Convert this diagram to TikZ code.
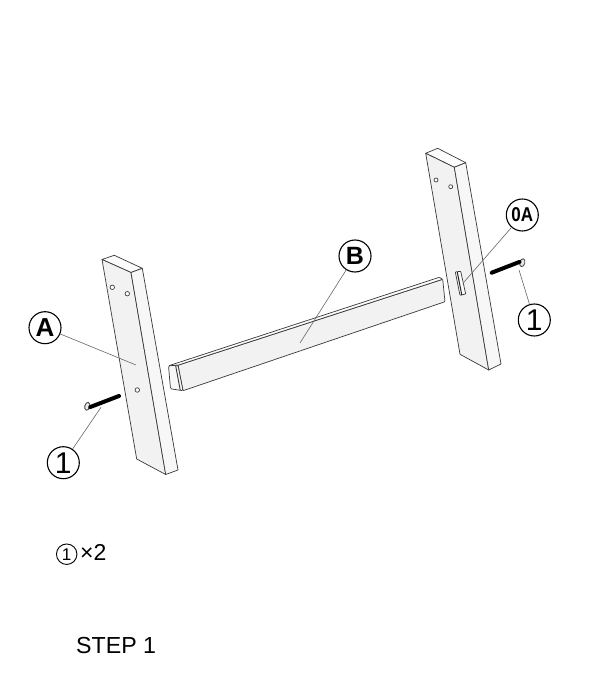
\documentclass[tikz,border=0pt]{standalone}
\usepackage{fontspec}
\setmainfont{Liberation Sans}
\usetikzlibrary{shapes.geometric}
\tikzset{
  part/.style={draw=black!78,line width=0.7pt,line join=round},
  front/.style={part,fill=black!5},
  side/.style={part,fill=black!3},
  topf/.style={part,fill=black!1},
  hole/.style={circle,draw=black!75,line width=0.7pt,fill=white,minimum size=4.5pt,inner sep=0pt},
  callout/.style={circle,draw=black,line width=1.1pt,fill=white,minimum size=32pt,inner sep=0pt,font=\fontsize{30}{30}\selectfont},
  leader/.style={draw=black!60,line width=0.6pt},
  shaft/.style={draw=black,line width=4pt,line cap=round},
  head/.style={ellipse,draw=black!70,line width=0.9pt,fill=black!8,minimum width=5pt,minimum height=8pt,inner sep=0pt},
  lab/.style={inner sep=0pt,anchor=base west},
}
\begin{document}
\begin{tikzpicture}[x=1pt,y=-1pt]
\useasboundingbox (0,0) rectangle (600,700);
% left post
\coordinate (la) at (102,259.5); \coordinate (lb) at (114.3,255.3);
\coordinate (lc) at (142.3,268.3); \coordinate (ld) at (131,272.5);
\coordinate (le) at (136.7,459); \coordinate (lf) at (165.7,474.5);
\coordinate (lg) at (178,470);
\fill[topf] (la) -- (lb) -- (lc) -- (ld) -- cycle;
\fill[front] (la) -- (ld) -- (lf) -- (le) -- cycle;
\fill[side] (ld) -- (lc) -- (lg) -- (lf) -- cycle;
\node[hole] (lh1) at (112.3,287.3) {};
\node[hole] (lh2) at (127.3,293.7) {};
\node[hole] (lh3) at (137.3,390) {};
% right post
\coordinate (ra) at (425.7,153.3); \coordinate (rb) at (437.7,148.3);
\coordinate (rc) at (465.7,162.7); \coordinate (rd) at (454.3,167.3);
\coordinate (re) at (460,354.3); \coordinate (rf) at (488.7,370);
\coordinate (rg) at (501,364);
\fill[topf] (ra) -- (rb) -- (rc) -- (rd) -- cycle;
\fill[front] (ra) -- (rd) -- (rf) -- (re) -- cycle;
\fill[side] (rd) -- (rc) -- (rg) -- (rf) -- cycle;
\node[hole,minimum size=4pt] (rh1) at (436,180) {};
\node[hole,minimum size=4pt] (rh2) at (450.7,186.7) {};
% slot
\filldraw[part,fill=black!2,rounded corners=0.6pt] (455.3,272) -- (460.7,271.3) -- (465.7,294) -- (460,295.3) -- cycle;
\draw[draw=black!85,line width=1pt] (457.3,272.2) -- (461.8,295);
% beam
\coordinate (ba) at (168.5,365.8); \coordinate (bb) at (439.3,277.3);
\coordinate (bc) at (442.7,279.3); \coordinate (bd) at (445,301.7);
\coordinate (be) at (183,390.7); \coordinate (bf) at (178,365.2);
\coordinate (bg) at (170.5,388.8);
\fill[front,rounded corners=0.8pt] (bf) -- (bc) -- (bd) -- (be) -- cycle;
\fill[topf,rounded corners=0.8pt] (ba) -- (bb) -- (bc) -- (bf) -- cycle;
\fill[side,rounded corners=1.2pt] (ba) -- (bf) -- (be) -- (bg) -- cycle;
\draw[part,line width=0.9pt] (175.6,365.4) -- (180.2,390);
% screws
\coordinate (sl) at (119,396); \coordinate (sr) at (491.7,272.7);
\node[head,rotate=-15] (hl) at (87.3,406.3) {};
\node[head,rotate=-15] (hr) at (522.3,262.7) {};
\draw[shaft] (hl.east) -- (sl);
\draw[shaft] (hr.west) -- (sr);
% callouts
\node[callout] (cA) at (45,327.7) {\fontsize{26}{26}\selectfont\textbf{A}};
\node[callout] (cB) at (355,256) {\fontsize{25}{25}\selectfont\textbf{B}};
\node[callout] (c1) at (63.3,462.7) {1};
\node[callout] (c2) at (534.3,320) {1};
\node[callout] (c0) at (522.3,215) {\scalebox{0.85}[1]{\fontsize{20}{20}\selectfont\textbf{0A}}};
\coordinate (tA) at (136,365); \coordinate (tB) at (300,343);
\coordinate (t1) at (101,407.3); \coordinate (t2) at (519,270);
\coordinate (t0) at (463.8,282.3);
\draw[leader] (cA) -- (tA);
\draw[leader] (cB) -- (tB);
\draw[leader] (c1) -- (t1);
\draw[leader] (c2) -- (t2);
\draw[leader] (c0) -- (t0);
% legend
\node[circle,draw=black,line width=0.9pt,minimum size=20.5pt,inner sep=0pt,font=\fontsize{17}{17}\selectfont] (leg) at (66.7,554.2) {1};
\node[lab,font=\fontsize{23}{23}\selectfont] (qty) at (80,560) {×2};
\node[lab,font=\fontsize{23.2}{23.2}\selectfont] (stp) at (76,653) {STEP 1};
\end{tikzpicture}
\end{document}
